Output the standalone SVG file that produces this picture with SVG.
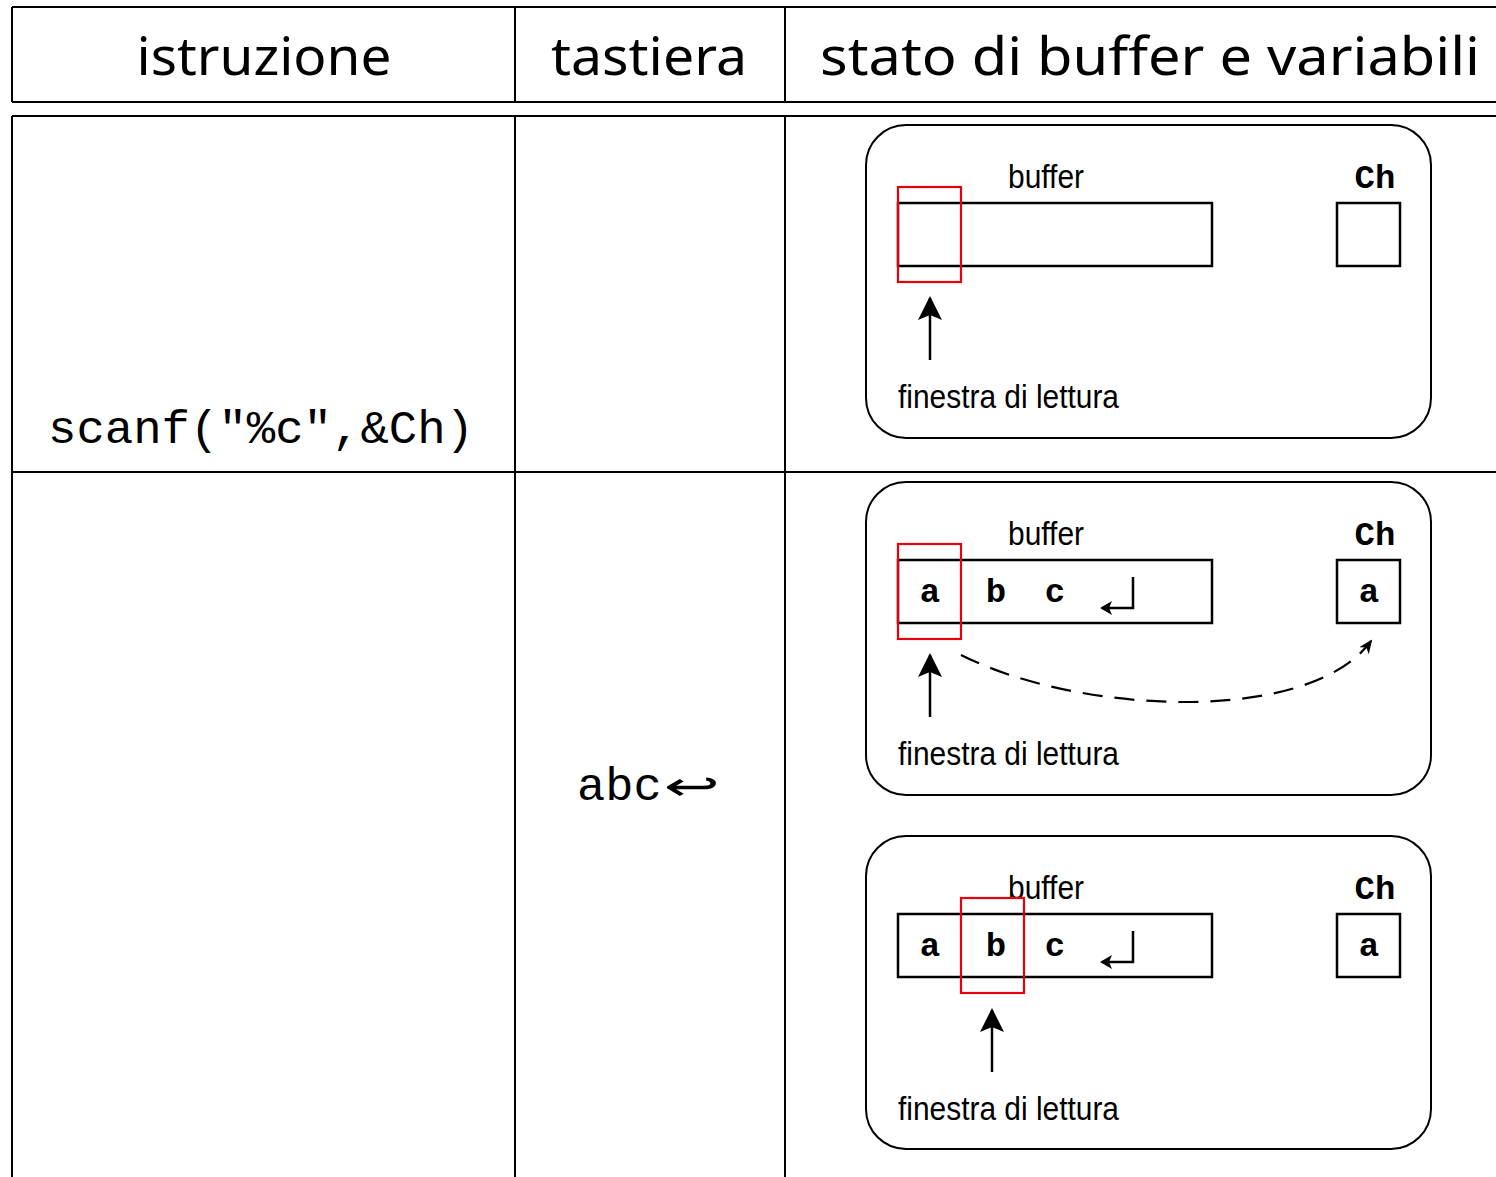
<svg xmlns="http://www.w3.org/2000/svg" width="1496" height="1177" viewBox="0 0 1496 1177">
  <style>
    .grid { stroke: #000; stroke-width: 2; fill: none; }
    .hdr { font-family: "Noto Sans", "DejaVu Sans", sans-serif; font-size: 52px; fill: #000; text-anchor: middle; }
    .code { font-family: "Liberation Mono", "DejaVu Sans Mono", monospace; font-size: 47px; fill: #000; }
    .panel { fill: none; stroke: #000; stroke-width: 2; }
    .cell { fill: none; stroke: #000; stroke-width: 2.5; }
    .win { fill: none; stroke: #e8000b; stroke-width: 2.2; }
    .lbl { font-family: "Liberation Sans", Arial, sans-serif; font-size: 34px; fill: #000; }
    .var { font-family: "Liberation Mono", "Courier New", monospace; font-weight: bold; font-size: 34px; fill: #000; text-anchor: middle; }
    .ptr { stroke: #000; stroke-width: 2.5; fill: none; marker-end: url(#head); }
    .copy { stroke: #000; stroke-width: 2.2; fill: none; stroke-dasharray: 20 12; marker-end: url(#barb); }
    .enter { stroke: #000; stroke-width: 2.5; fill: none; marker-end: url(#enterHead); }
  </style>
  <defs>
    <marker id="head" markerUnits="userSpaceOnUse" viewBox="0 0 24 24" refX="22" refY="12" markerWidth="24" markerHeight="24" orient="auto">
      <path d="M0,0 L24,12 L0,24 L5,12 Z" fill="#000"/>
    </marker>
    <marker id="barb" markerUnits="userSpaceOnUse" viewBox="0 0 14 12" refX="12" refY="6" markerWidth="14" markerHeight="12" orient="auto">
      <path d="M0,0 L14,6 L0,12 L4,6 Z" fill="#000"/>
    </marker>
    <marker id="enterHead" markerUnits="userSpaceOnUse" viewBox="0 0 12 14" refX="10" refY="7" markerWidth="12" markerHeight="14" orient="auto">
      <path d="M0,0 L12,7 L0,14 L3,7 Z" fill="#000"/>
    </marker>
  </defs>
  <rect width="1496" height="1177" fill="#fff"/>

  <!-- table rules -->
  <g id="table" class="grid">
    <line x1="12" y1="7" x2="1496" y2="7"/>
    <line x1="12" y1="102" x2="1496" y2="102"/>
    <line x1="12" y1="116" x2="1496" y2="116"/>
    <line x1="12" y1="472" x2="1496" y2="472"/>
    <line x1="12" y1="7" x2="12" y2="102"/>
    <line x1="515" y1="7" x2="515" y2="102"/>
    <line x1="785" y1="7" x2="785" y2="102"/>
    <line x1="12" y1="116" x2="12" y2="1177"/>
    <line x1="515" y1="116" x2="515" y2="1177"/>
    <line x1="785" y1="116" x2="785" y2="1177"/>
  </g>

  <!-- column headings -->
  <g id="headings">
    <text class="hdr" x="264" y="75" textLength="255" lengthAdjust="spacingAndGlyphs">istruzione</text>
    <text class="hdr" x="649" y="75" textLength="196" lengthAdjust="spacingAndGlyphs">tastiera</text>
    <text class="hdr" x="1150" y="75" textLength="660" lengthAdjust="spacingAndGlyphs">stato di buffer e variabili</text>
  </g>

  <!-- instruction and keyboard input -->
  <g id="instruction">
    <text class="code" x="48" y="443" textLength="426" lengthAdjust="spacingAndGlyphs">scanf("%c",&amp;Ch)</text>
  </g>
  <g id="keyboard">
    <text class="code" x="577" y="800">abc<tspan font-family="DejaVu Sans, sans-serif" font-size="40" dx="2" textLength="56" lengthAdjust="spacingAndGlyphs">↩</tspan></text>
  </g>

  <!-- state 1: empty buffer -->
  <g id="state1">
    <rect class="panel" x="866" y="125" width="565" height="313" rx="40"/>
    <text class="lbl" x="1008" y="188" textLength="76" lengthAdjust="spacingAndGlyphs">buffer</text>
    <text class="var" x="1375" y="188">Ch</text>
    <rect class="cell" x="898" y="203" width="314" height="63"/>
    <rect class="cell" x="1337" y="203" width="63" height="63"/>
    <rect class="win" x="898" y="187" width="63" height="95"/>
    <text class="lbl" x="898" y="408" textLength="221" lengthAdjust="spacingAndGlyphs">finestra di lettura</text>
  </g>

  <!-- state 2: window on 'a', copied to Ch -->
  <g id="state2">
    <rect class="panel" x="866" y="482" width="565" height="313" rx="40"/>
    <text class="lbl" x="1008" y="545" textLength="76" lengthAdjust="spacingAndGlyphs">buffer</text>
    <text class="var" x="1375" y="545">Ch</text>
    <rect class="cell" x="898" y="560" width="314" height="63"/>
    <rect class="cell" x="1337" y="560" width="63" height="63"/>
    <text class="var" x="930" y="602">a</text>
    <text class="var" x="996" y="602">b</text>
    <text class="var" x="1055" y="602">c</text>
    <text class="var" x="1369" y="602">a</text>
    <rect class="win" x="898" y="544" width="63" height="95"/>
    <text class="lbl" x="898" y="765" textLength="221" lengthAdjust="spacingAndGlyphs">finestra di lettura</text>
  </g>

  <!-- state 3: window advanced to 'b' -->
  <g id="state3">
    <rect class="panel" x="866" y="836" width="565" height="313" rx="40"/>
    <text class="lbl" x="1008" y="899" textLength="76" lengthAdjust="spacingAndGlyphs">buffer</text>
    <text class="var" x="1375" y="899">Ch</text>
    <rect class="cell" x="898" y="914" width="314" height="63"/>
    <rect class="cell" x="1337" y="914" width="63" height="63"/>
    <text class="var" x="930" y="956">a</text>
    <text class="var" x="996" y="956">b</text>
    <text class="var" x="1055" y="956">c</text>
    <text class="var" x="1369" y="956">a</text>
    <rect class="win" x="961" y="898" width="63" height="95"/>
    <text class="lbl" x="898" y="1120" textLength="221" lengthAdjust="spacingAndGlyphs">finestra di lettura</text>
  </g>

  <!-- pointers, newline marks and the copy arc -->
  <g id="connectors">
    <line class="ptr" x1="930" y1="360" x2="930" y2="298"/>
    <line class="ptr" x1="930" y1="717" x2="930" y2="655"/>
    <line class="ptr" x1="992" y1="1072" x2="992" y2="1010"/>
    <path class="enter" d="M1133,577 V608 H1102"/>
    <path class="enter" d="M1133,931 V962 H1102"/>
    <path class="copy" d="M961,655 C1080,715 1310,725 1371,641"/>
  </g>
</svg>
